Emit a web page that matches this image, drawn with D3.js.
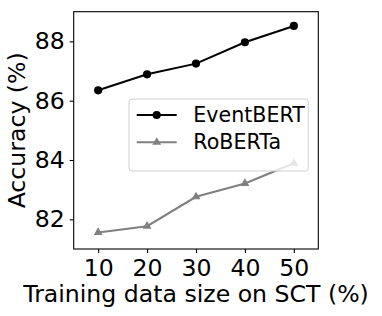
<!DOCTYPE html>
<html>
<head>
<meta charset="utf-8">
<script src="https://cdn.jsdelivr.net/npm/d3@7"></script>
<style>
  html, body { margin: 0; padding: 0; background: #fff; }
  svg text { font-family: "DejaVu Sans", sans-serif; fill: #000; }
</style>
</head>
<body>
<div id="chart"></div>
<script>
// --------------- Data --------------- //

const sizes = [10, 20, 30, 40, 50];
const eventbert = [86.35, 86.89, 87.25, 87.97, 88.52];
const roberta = [81.56, 81.77, 82.76, 83.21, 83.89];
const seriesNames = ["EventBERT", "RoBERTa"];
const xTicks = [10, 20, 30, 40, 50];
const yTicks = [82, 84, 86, 88];

// --------------- Basic Setup --------------- //

const width = 382,
    height = 316;

const margin = {top: 11.7, right: 63.7, bottom: 67, left: 73.7};

const svg = d3.select("#chart")
    .append("svg")
    .attr("width", width)
    .attr("height", height);

const x = d3.scaleLinear()
    .domain([5, 55])
    .range([margin.left, width - margin.right]);

const y = d3.scaleLinear()
    .domain([81, 89])
    .range([height - margin.bottom, margin.top]);

const colors = ["#000000", "#808080"];
const series = [eventbert, roberta];

// --------------- Axes --------------- //

const xAxis = svg.append("g")
    .attr("transform", `translate(0,${height - margin.bottom})`)
    .call(d3.axisBottom(x).tickValues(xTicks).tickSize(4).tickPadding(6).tickFormat(d3.format("d")));

const yAxis = svg.append("g")
    .attr("transform", `translate(${margin.left},0)`)
    .call(d3.axisLeft(y).tickValues(yTicks).tickSize(4).tickPadding(5).tickFormat(d3.format("d")));

[xAxis, yAxis].forEach(g => {
    g.select(".domain").remove();
    g.selectAll(".tick line").attr("stroke", "#000").attr("stroke-width", 1.1);
    g.selectAll(".tick text")
        .attr("font-size", "23.6px")
        .attr("font-family", "DejaVu Sans");
});

// frame
svg.append("rect")
    .attr("x", margin.left)
    .attr("y", margin.top)
    .attr("width", width - margin.left - margin.right)
    .attr("height", height - margin.top - margin.bottom)
    .attr("fill", "none")
    .attr("stroke", "#000")
    .attr("stroke-width", 1.1);

// axis titles
svg.append("text")
    .attr("x", (margin.left + width - margin.right) / 2)
    .attr("y", 301.7)
    .attr("text-anchor", "middle")
    .attr("font-size", "23.6px")
    .text("Training data size on SCT (%)");

svg.append("text")
    .attr("transform", `translate(25,${(margin.top + height - margin.bottom) / 2}) rotate(-90)`)
    .attr("text-anchor", "middle")
    .attr("font-size", "23.6px")
    .text("Accuracy (%)");

// --------------- Lines --------------- //

const line = d3.line()
    .x((d, i) => x(sizes[i]))
    .y(d => y(d));

const tri = d3.symbol().type(d3.symbolTriangle).size(34);

series.forEach((vals, k) => {
    svg.append("path")
        .datum(vals)
        .attr("fill", "none")
        .attr("stroke", colors[k])
        .attr("stroke-width", 2)
        .attr("d", line);

    if (k === 0) {
        svg.append("g")
            .selectAll("circle")
            .data(vals)
            .join("circle")
            .attr("cx", (d, i) => x(sizes[i]))
            .attr("cy", d => y(d))
            .attr("r", 4.1)
            .attr("fill", colors[k]);
    } else {
        svg.append("g")
            .selectAll("path")
            .data(vals)
            .join("path")
            .attr("d", tri)
            .attr("transform", (d, i) => `translate(${x(sizes[i])},${y(d)})`)
            .attr("fill", colors[k]);
    }
});

// --------------- Legend --------------- //

const legend = svg.append("g");

legend.append("rect")
    .attr("x", 129)
    .attr("y", 99)
    .attr("width", 179.3)
    .attr("height", 72)
    .attr("rx", 3)
    .attr("fill", "#fff")
    .attr("fill-opacity", 0.8)
    .attr("stroke", "#d0d0d0")
    .attr("stroke-width", 1);

seriesNames.forEach((name, k) => {
    const ly = 115 + k * 27.3;
    legend.append("line")
        .attr("x1", 136.7).attr("x2", 176.7)
        .attr("y1", ly).attr("y2", ly)
        .attr("stroke", colors[k])
        .attr("stroke-width", 2);
    if (k === 0) {
        legend.append("circle")
            .attr("cx", 156.7).attr("cy", ly).attr("r", 4.1)
            .attr("fill", colors[k]);
    } else {
        legend.append("path")
            .attr("d", tri)
            .attr("transform", `translate(156.7,${ly})`)
            .attr("fill", colors[k]);
    }
    legend.append("text")
        .attr("x", 193.3)
        .attr("y", ly + 6.9)
        .attr("font-size", "20.6px")
        .text(name);
});
</script>
</body>
</html>
